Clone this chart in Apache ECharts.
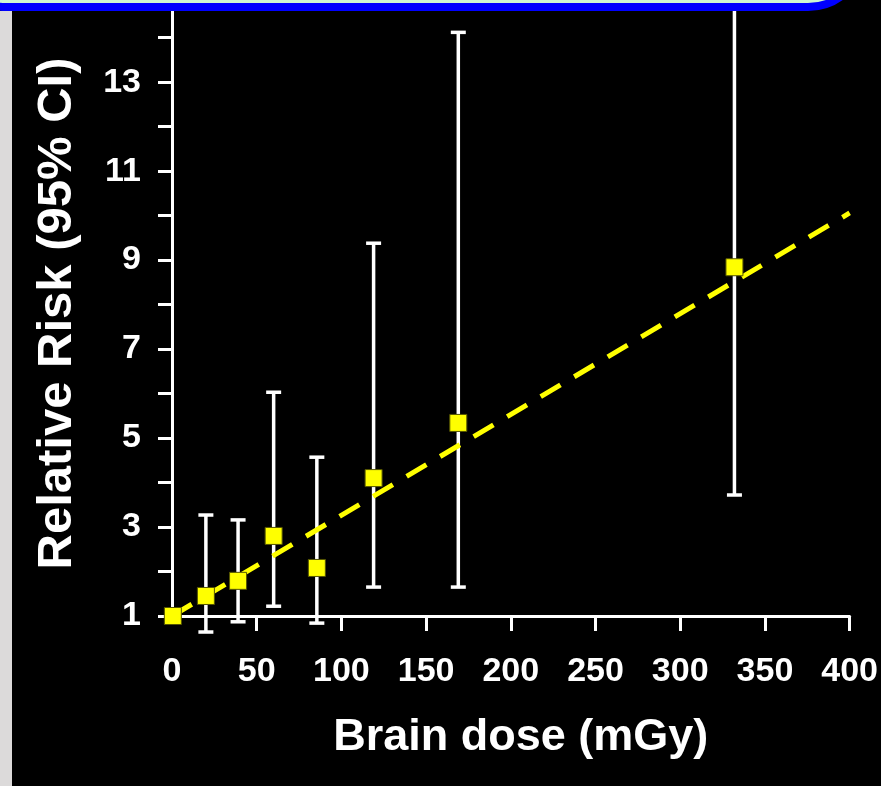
<!DOCTYPE html>
<html>
<head>
<meta charset="utf-8">
<script src="https://cdn.jsdelivr.net/npm/echarts@6/dist/echarts.min.js"></script>
<style>
html,body{margin:0;padding:0;background:#000;}
#chart{width:881px;height:786px;}
</style>
</head>
<body>
<div id="chart"></div>
<script>
// Data
const doses  = [0.5, 20, 39, 60, 85.5, 119, 169, 332];
const rr     = [1.0, 1.45, 1.79, 2.80, 2.08, 4.10, 5.34, 8.84];
const ciLow  = [null, 0.64, 0.87, 1.22, 0.84, 1.65, 1.65, 3.72];
const ciHigh = [null, 3.27, 3.16, 6.03, 4.57, 9.38, 14.12, 20];
const fitX = [0, 400];
const fitY = [1, 10.06];
const yTickValues  = [1,2,3,4,5,6,7,8,9,10,11,12,13,14];
const yLabelValues = [1,3,5,7,9,11,13];
const xTickValues  = [50,100,150,200,250,300,350,400];

const FONT = "'Liberation Sans', Arial, sans-serif";

const chart = echarts.init(document.getElementById('chart'));

const errData = [];
doses.forEach((d, i) => {
  if (ciLow[i] != null && ciHigh[i] != null) errData.push([d, ciLow[i], ciHigh[i]]);
});

chart.setOption({
  backgroundColor: '#000',
  animation: false,
  grid: { left: 172, right: 31, top: 11, bottom: 170, containLabel: false },
  xAxis: {
    type: 'value', min: 0, max: 400, interval: 50,
    splitLine: { show: false },
    axisLine: { show: true, lineStyle: { color: '#fff', width: 3 } },
    axisTick: { show: true, length: 15, lineStyle: { color: '#fff', width: 3 }, customValues: xTickValues },
    axisLabel: { color: '#fff', fontSize: 34, fontWeight: 'bold', fontFamily: FONT, margin: 39 },
    name: 'Brain dose (mGy)', nameLocation: 'middle', nameGap: 99,
    nameTextStyle: { color: '#fff', fontSize: 45, fontWeight: 'bold', fontFamily: FONT, padding: [0, 0, 0, 20] }
  },
  yAxis: {
    type: 'value', min: 1, max: 14.6, interval: 1,
    splitLine: { show: false },
    axisLine: { show: true, lineStyle: { color: '#fff', width: 3 } },
    axisTick: { show: true, length: 14, lineStyle: { color: '#fff', width: 3 }, customValues: yTickValues },
    axisLabel: { color: '#fff', fontSize: 34, fontWeight: 'bold', fontFamily: FONT, margin: 31, customValues: yLabelValues },
    name: 'Relative Risk (95% CI)', nameLocation: 'middle', nameGap: 90, nameRotate: 90,
    nameTextStyle: { color: '#fff', fontSize: 49, fontWeight: 'bold', fontFamily: FONT, padding: [0, 0, 0, 0] }
  },
  series: [
    {
      type: 'custom',
      z: 1,
      clip: false,
      data: errData,
      renderItem: function (params, api) {
        const x = api.value(0), lo = api.value(1), hi = api.value(2);
        const pLo = api.coord([x, lo]);
        const pHi = api.coord([x, hi]);
        const hw = 7.5;
        const st = { stroke: '#fff', lineWidth: 3.5 };
        return {
          type: 'group',
          children: [
            { type: 'line', shape: { x1: pLo[0], y1: pLo[1], x2: pHi[0], y2: pHi[1] }, style: st },
            { type: 'line', shape: { x1: pLo[0] - hw, y1: pLo[1], x2: pLo[0] + hw, y2: pLo[1] }, style: st },
            { type: 'line', shape: { x1: pHi[0] - hw, y1: pHi[1], x2: pHi[0] + hw, y2: pHi[1] }, style: st }
          ]
        };
      }
    },
    {
      type: 'line',
      z: 2,
      data: fitX.map((x, i) => [x, fitY[i]]),
      showSymbol: false,
      symbol: 'none',
      lineStyle: { color: '#ffff00', width: 5, type: [23, 16] }
    },
    {
      type: 'scatter',
      z: 3,
      data: doses.map((d, i) => [d, rr[i]]),
      symbol: 'rect',
      symbolSize: 17,
      itemStyle: { color: '#ffff00', borderColor: '#555500', borderWidth: 1, opacity: 1 }
    }
  ],
  graphic: [
    { type: 'rect', z: 100, shape: { x: 0, y: 11, width: 12, height: 775 }, style: { fill: '#dcdada' } },
    { type: 'rect', z: 101, shape: { x: -50, y: -200, width: 914, height: 207, r: 56 },
      style: { fill: '#d0f8d0', stroke: '#0000ff', lineWidth: 8 } }
  ]
});
</script>
</body>
</html>
